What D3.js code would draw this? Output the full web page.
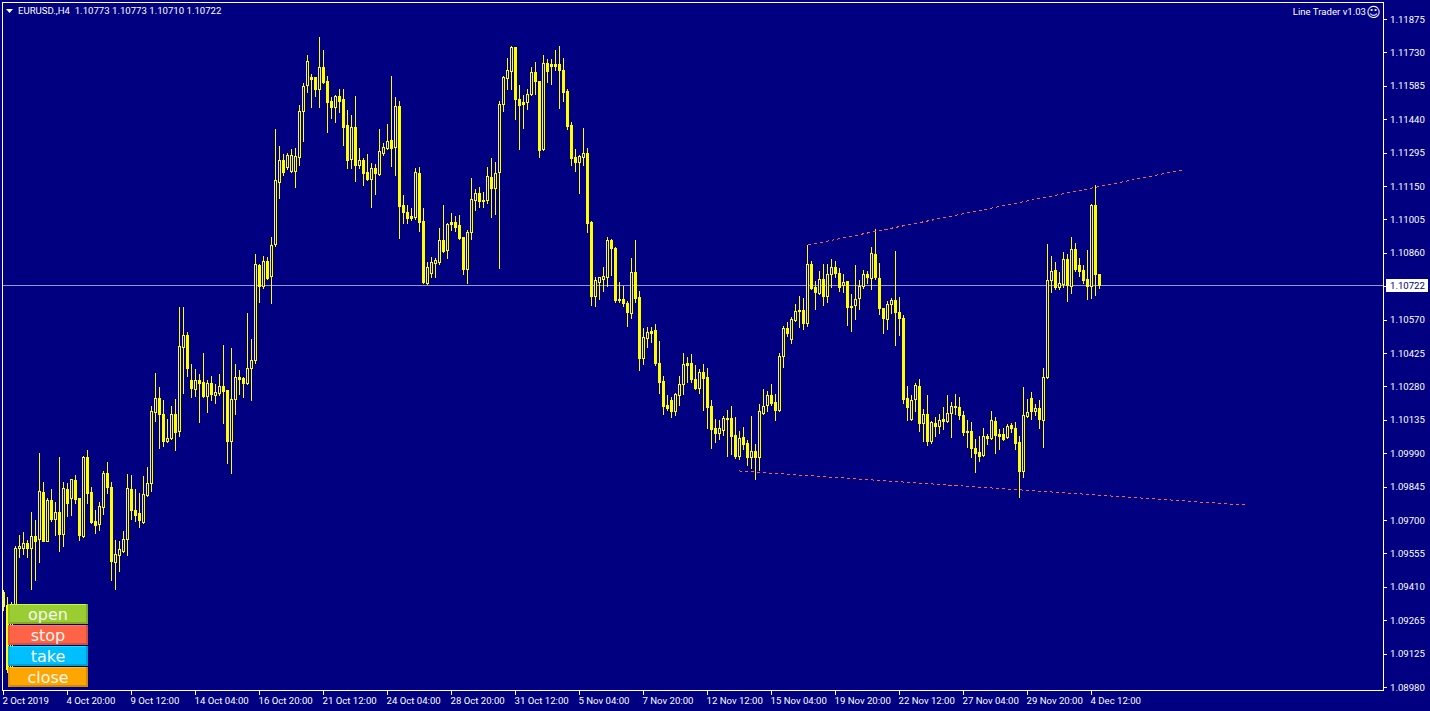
<!DOCTYPE html>
<html><head><meta charset="utf-8">
<script src="https://cdn.jsdelivr.net/npm/d3@7/dist/d3.min.js"></script>
<style>html,body{margin:0;padding:0;background:#000080;overflow:hidden}svg{display:block}</style>
</head><body><svg id="c" width="1430" height="711"></svg>
<script>
// prices in points (1 point = 0.00001)
const opens=[109391,109335,109062,109331,109583,109583,109604,109583,109635,109622,
109826,109613,109791,109709,109739,109643,109839,109800,109878,109800,
109635,109978,109826,109700,109687,109761,109908,109847,109522,109552,
109570,109622,109839,109748,109735,109696,109813,109865,110173,110234,
110164,110047,110060,110164,110090,110455,110507,110312,110273,110312,
110303,110242,110299,110247,110255,110286,110268,110047,110229,110325,
110320,110299,110364,110399,110811,110720,110828,110763,110902,111171,
111267,111236,111219,111219,111280,111479,111592,111627,111627,111575,
111670,111609,111523,111497,111544,111531,111419,111271,111410,111245,
111267,111215,111184,111232,111206,111297,111319,111353,111323,111501,
111071,111041,111024,111019,111210,111002,110733,110776,110820,110824,
110919,110876,110998,110998,110985,110932,110794,110954,111093,111123,
111093,111093,111193,111145,111215,111510,111622,111653,111757,111531,
111518,111518,111553,111649,111609,111314,111688,111683,111683,111683,
111657,111566,111419,111280,111258,111280,111297,110998,110676,110737,
110750,110759,110919,110885,110663,110663,110646,110603,110781,110672,
110407,110494,110524,110529,110386,110307,110203,110225,110177,110247,
110294,110386,110386,110316,110277,110347,110325,110199,110103,110082,
110095,110147,110147,110073,109982,110064,110038,109978,110004,109978,
110169,110203,110247,110216,110182,110416,110537,110490,110572,110616,
110616,110559,110815,110715,110689,110750,110676,110772,110802,110776,
110724,110741,110633,110637,110668,110720,110772,110754,110859,110754,
110624,110577,110642,110659,110607,110581,110234,110143,110229,110286,
110125,110164,110047,110125,110112,110143,110134,110169,110199,110195,
110160,110090,110090,110017,110000,109986,110069,110060,110134,110077,
110077,110064,110116,110103,110043,109917,110156,110234,110177,110190,
110138,110325,110746,110789,110715,110728,110837,110720,110880,110811,
110789,110750,110720,111071,110773];
const highs=[109400,109370,109348,109591,109639,109652,109617,109739,109704,109995,
109869,109800,109839,109782,109978,109869,109865,109882,109900,109800,
109982,110008,109847,109748,109782,109917,109956,109869,109617,109613,
109656,109904,109900,109839,109821,109895,109934,110199,110342,110281,
110225,110143,110199,110229,110629,110629,110520,110381,110360,110338,
110429,110312,110329,110294,110338,110464,110268,110451,110381,110355,
110325,110603,110490,110859,110815,110850,110846,110932,111401,111327,
111293,111297,111314,111319,111505,111601,111722,111640,111627,111800,
111744,111631,111540,111549,111575,111575,111484,111462,111544,111319,
111275,111293,111254,111249,111401,111340,111423,111631,111540,111523,
111115,111071,111058,111232,111236,111058,110824,110846,110841,110971,
111071,110993,111037,111024,111028,110932,110963,111188,111141,111149,
111128,111236,111275,111258,111523,111631,111709,111761,111757,111592,
111549,111575,111670,111692,111609,111722,111705,111705,111744,111761,
111709,111575,111432,111314,111288,111405,111319,111002,110759,110759,
110802,110932,110924,110889,110737,110720,110655,110841,110919,110698,
110537,110542,110542,110555,110481,110329,110247,110238,110255,110329,
110429,110412,110425,110377,110360,110381,110364,110225,110143,110138,
110156,110182,110199,110151,110090,110108,110051,110156,110034,110208,
110273,110264,110294,110251,110429,110546,110563,110585,110642,110676,
110668,110898,110828,110741,110785,110815,110815,110837,110828,110798,
110772,110741,110685,110811,110746,110789,110785,110889,110967,110820,
110624,110655,110668,110872,110672,110594,110286,110247,110299,110316,
110186,110247,110134,110151,110164,110195,110247,110216,110251,110238,
110177,110138,110130,110056,110069,110103,110077,110177,110151,110099,
110103,110121,110125,110130,110069,110281,110229,110260,110208,110225,
110364,110902,110850,110824,110781,110867,110859,110932,110906,110841,
110811,110876,111076,111158,110773];
const lows=[109314,109044,109053,109322,109544,109557,109544,109405,109444,109522,
109613,109613,109700,109639,109570,109591,109722,109726,109778,109617,
109630,109778,109691,109648,109661,109730,109821,109444,109405,109483,
109565,109552,109709,109700,109674,109691,109808,109830,110134,110017,
110025,110043,110056,110008,110069,110255,110329,110238,110242,110130,
110238,110173,110225,110212,110247,110125,109952,109908,110164,110251,
110238,110295,110225,110386,110650,110711,110750,110646,110893,111102,
111202,111228,111215,111149,111245,111349,111562,111497,111544,111497,
111601,111388,111449,111432,111475,111332,111232,111232,111175,111232,
111158,111180,111063,111119,111202,111288,111314,111241,111202,110928,
110993,110993,111006,111011,110958,110733,110728,110759,110759,110815,
110867,110841,110963,110958,110924,110772,110733,110924,111050,111063,
111063,111080,111019,111032,110798,111479,111575,111575,111445,111314,
111405,111488,111549,111553,111280,111310,111605,111596,111657,111492,
111523,111401,111245,111219,111123,111245,110954,110637,110633,110663,
110698,110720,110767,110650,110650,110633,110546,110581,110650,110355,
110381,110455,110477,110377,110255,110164,110182,110151,110160,110203,
110251,110303,110303,110273,110255,110182,110103,110017,110043,110056,
110073,109982,109991,109973,109969,110012,109943,109930,109882,109921,
110164,110177,110203,110138,110177,110368,110503,110472,110568,110542,
110533,110546,110707,110620,110685,110637,110650,110715,110759,110698,
110694,110550,110524,110577,110620,110711,110733,110707,110750,110598,
110516,110533,110603,110464,110507,110212,110138,110138,110177,110090,
110047,110030,110038,110069,110082,110099,110130,110064,110164,110143,
110073,110021,109978,109912,109960,109982,110034,110056,109995,110012,
110051,110060,110086,110012,109804,109891,110151,110143,110160,110103,
110021,110320,110694,110707,110707,110715,110655,110689,110785,110763,
110733,110663,110668,110681,110710];
const closes=[109331,109058,109331,109583,109591,109604,109583,109635,109613,109830,
109613,109791,109709,109739,109643,109843,109778,109882,109795,109639,
109978,109821,109696,109683,109765,109908,109847,109526,109557,109578,
109622,109843,109748,109726,109704,109817,109865,110177,110234,110164,
110047,110060,110164,110086,110459,110507,110364,110277,110312,110299,
110242,110299,110251,110260,110286,110264,110047,110229,110325,110316,
110299,110364,110399,110815,110720,110828,110754,110898,111180,111267,
111215,111288,111288,111284,111479,111588,111696,111618,111575,111670,
111605,111518,111497,111544,111523,111410,111267,111410,111245,111267,
111210,111184,111232,111210,111306,111323,111349,111319,111501,111067,
111041,111015,111015,111215,110998,110737,110802,110824,110833,110919,
110872,110989,110989,110976,110928,110794,110954,111097,111123,111089,
111089,111197,111145,111210,111510,111627,111657,111757,111531,111505,
111510,111553,111649,111609,111310,111688,111653,111675,111675,111657,
111562,111414,111275,111258,111284,111297,110993,110676,110746,110759,
110763,110919,110885,110659,110659,110646,110607,110781,110668,110407,
110498,110520,110516,110386,110303,110199,110190,110177,110251,110294,
110381,110377,110316,110277,110347,110320,110195,110099,110082,110103,
110147,110143,110069,109982,110060,110034,109978,110004,109978,110177,
110199,110247,110212,110182,110416,110537,110516,110576,110611,110611,
110559,110815,110711,110694,110750,110676,110772,110802,110776,110715,
110737,110629,110629,110663,110720,110772,110759,110863,110759,110624,
110581,110642,110659,110607,110581,110229,110195,110225,110290,110125,
110164,110047,110130,110112,110138,110134,110169,110199,110195,110160,
110086,110086,110017,109995,109982,110069,110060,110138,110073,110069,
110056,110112,110103,110038,109917,110160,110173,110177,110190,110143,
110325,110746,110785,110715,110733,110837,110724,110880,110794,110785,
110746,110720,111071,110772,110722];
const priceTicks=["1.11875","1.11730","1.11585","1.11440","1.11295","1.11150","1.11005","1.10860","1.10715","1.10570","1.10425","1.10280","1.10135","1.09990","1.09845","1.09700","1.09555","1.09410","1.09265","1.09125","1.08980"];
const timeTicks=["2 Oct 2019","4 Oct 20:00","9 Oct 12:00","14 Oct 04:00","16 Oct 20:00","21 Oct 12:00","24 Oct 04:00","28 Oct 20:00","31 Oct 12:00","5 Nov 04:00","7 Nov 20:00","12 Nov 12:00","15 Nov 04:00","19 Nov 20:00","22 Nov 12:00","27 Nov 04:00","29 Nov 20:00","4 Dec 12:00"];
const lastPrice=110722;
const upperTrendIdx=[201.25,294.75], upperTrendPrice=[110898,111223];
const lowerTrendIdx=[184,310.75], lowerTrendPrice=[109917,109769];
const buttonLabels=["open","stop","take","close"];
const buttonColors=["#9ACD32","#FF6347","#00BFFF","#FFA500"];
const titleText="EURUSD.,H4  1.10773 1.10773 1.10710 1.10722";
const expertText="Line Trader v1.03";

const NAVY="#000080",YEL="#FFFF00",FONT="Roboto, sans-serif",FS=9.6;
const svg=d3.select("#c");
svg.append("rect").attr("width",1430).attr("height",711).attr("fill",NAVY);

const x=d3.scaleLinear().domain([0,274]).range([3,1099]);
const y=d3.scaleLinear().domain([111961,108923]).range([0,700]);
const row=v=>Math.round(y(v));

// last-price line under candles
const plot=svg.append("g");
plot.append("line").attr("x1",3).attr("x2",1384).attr("y1",row(lastPrice)+.5).attr("y2",row(lastPrice)+.5)
  .attr("stroke","#9498C8").attr("stroke-width",1).attr("shape-rendering","crispEdges");

const idx=d3.range(opens.length);
const g=plot.append("g").attr("shape-rendering","crispEdges");
g.selectAll("rect.w").data(idx).join("rect").attr("class","w")
 .attr("x",i=>x(i)).attr("width",1)
 .attr("y",i=>row(highs[i])).attr("height",i=>row(lows[i])-row(highs[i])+1).attr("fill",YEL);
g.selectAll("rect.b").data(idx).join("rect").attr("class","b")
 .attr("x",i=>x(i)-.5).attr("width",2)
 .attr("y",i=>Math.min(row(opens[i]),row(closes[i]))+.5)
 .attr("height",i=>Math.abs(row(opens[i])-row(closes[i])))
 .attr("fill",i=>closes[i]>opens[i]?NAVY:YEL).attr("stroke",YEL).attr("stroke-width",1);

// trend lines
const tl=d3.line().x(d=>x(d[0])).y(d=>y(d[1]));
[[upperTrendIdx,upperTrendPrice],[lowerTrendIdx,lowerTrendPrice]].forEach(([a,b])=>{
  svg.append("path").attr("d",tl(d3.zip(a,b))).attr("fill","none").attr("stroke","#FF6347")
   .attr("stroke-width",1).attr("stroke-dasharray","3 3").attr("shape-rendering","crispEdges");
});

// frame
svg.append("rect").attr("x",2.5).attr("y",2.5).attr("width",1381).attr("height",688).attr("fill","none")
 .attr("stroke","#fff").attr("stroke-width",1).attr("shape-rendering","crispEdges");

// axes
const yAxisScale=d3.scalePoint().domain(priceTicks).range([19,687]);
const ya=svg.append("g").attr("transform","translate(1384,0)").call(d3.axisRight(yAxisScale).tickSize(3).tickPadding(3));
const xAxisScale=d3.scalePoint().domain(timeTicks).range([3,1091]);
const xa=svg.append("g").attr("transform","translate(0,691)").call(d3.axisBottom(xAxisScale).tickSize(4).tickPadding(2));
[ya,xa].forEach(a=>{a.select(".domain").remove();
 a.selectAll("line").attr("stroke","#fff").attr("shape-rendering","crispEdges");
 a.selectAll("text").attr("fill","#fff").style("font",`${FS}px ${FONT}`);});
xa.selectAll("text").attr("text-anchor","start").attr("dx",-1).attr("dy","0.75em");

// last price label
svg.append("rect").attr("x",1386).attr("y",279).attr("width",42).attr("height",13).attr("fill","#fff");
svg.append("text").attr("x",1390).attr("y",289).attr("fill",NAVY).style("font",`${FS}px ${FONT}`).text((lastPrice/1e5).toFixed(5));

// header
svg.append("path").attr("d",d3.line()([[6,9],[13,9],[9.5,13]])+"Z").attr("fill","#fff");
svg.append("text").attr("x",18).attr("y",14).attr("fill","#fff").attr("xml:space","preserve").style("white-space","pre").style("font",`${FS}px ${FONT}`).text(titleText);
svg.append("text").attr("x",1366).attr("y",15).attr("text-anchor","end").attr("fill","#fff").style("font",`${FS}px ${FONT}`).text(expertText);
svg.append("text").attr("x",1373.5).attr("y",16.5).attr("text-anchor","middle").attr("fill","#fff").style("font","14px 'DejaVu Sans'").text("\u263A");

// buttons
const bt=d3.scaleBand().domain(buttonLabels).range([604,688]).paddingInner(0);
const btn=svg.selectAll("g.btn").data(buttonLabels).join("g").attr("class","btn")
 .attr("transform",d=>`translate(8,${bt(d)})`);
const col=d=>buttonColors[buttonLabels.indexOf(d)];
btn.append("rect").attr("width",80).attr("height",20).attr("fill",col);
btn.append("rect").attr("width",80).attr("height",1).attr("fill",d=>d3.color(col(d)).brighter(.6));
btn.append("rect").attr("y",18).attr("width",80).attr("height",2).attr("fill",d=>d3.color(col(d)).darker(.5));
btn.append("rect").attr("x",78).attr("width",2).attr("height",20).attr("fill",d=>d3.color(col(d)).darker(.5));
btn.append("rect").attr("width",2).attr("height",20).attr("fill",d=>d3.color(col(d)).darker(.25));
btn.append("text").attr("x",40).attr("y",16).attr("text-anchor","middle").attr("fill","#F4F8F0")
 .style("font","16px 'DejaVu Sans'").text(d=>d);
</script></body></html>
